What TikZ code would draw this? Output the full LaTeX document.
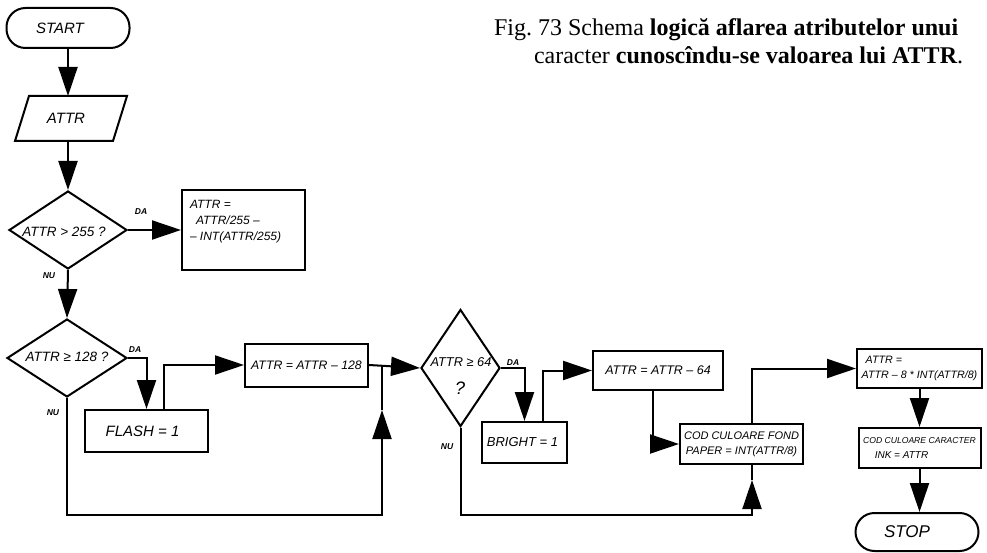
\documentclass[tikz,border=0pt]{standalone}
\usepackage{fontspec}
\setmainfont{Liberation Serif}
\newfontfamily\hand{Liberation Sans}
\usetikzlibrary{shapes.geometric,arrows.meta}
\newcommand{\hs}[1]{\hand\itshape\fontsize{#1}{#1}\selectfont}
\begin{document}
\begin{tikzpicture}[x=1pt,y=-1pt,
  line width=2pt, line join=miter,
  arr/.style={-{Triangle[length=29pt,width=19pt]}},
  box/.style={draw, rectangle, inner sep=0pt},
  term/.style={draw, rectangle, rounded corners=19pt, inner sep=0pt, font=\hs{15}},
  dia/.style={draw, diamond, inner sep=0pt},
  htxt/.style={font=\hs{13}, inner sep=0pt},
  lab/.style={font=\hand\itshape\bfseries\fontsize{8.5}{9}\selectfont, inner sep=0pt},
  captxt/.style={font=\fontsize{24}{26}\selectfont, inner sep=0pt, anchor=base west}]
\useasboundingbox (0,0) rectangle (987,553);
% caption
\node[captxt] (cap1) at (493,36) {Fig.\ 73 Schema \textbf{logică aflarea atributelor unui}};
\node[captxt] (cap2) at (533,64) {caracter \textbf{cunoscîndu-se valoarea lui ATTR}.};
% start
\node[term, minimum width=123pt, minimum height=40pt] (start) at (68,28) {\hspace{-16pt}START};
% input
\node[minimum width=96pt, minimum height=43pt, inner sep=0pt, font=\hs{15}] (attr) at (71,118.5) {\hspace{-10pt}ATTR};
\draw ([xshift=7pt]attr.north west) -- ([xshift=7pt]attr.north east) -- ([xshift=-7pt]attr.south east) -- ([xshift=-7pt]attr.south west) -- cycle;
\draw[arr] (start.south) -- (start.south |- attr.north);
% decision 1
\node[dia, minimum width=118pt, minimum height=78pt] (d1) at (68,230) {};
\node[htxt, font=\hs{13.5}] (t1) at (64,232) {ATTR > 255 ?};
\draw[arr] (attr.south -| start.south) -- (d1.north);
\node[box, minimum width=123pt, minimum height=80pt] (b1) at (243.5,230) {};
\node[htxt, anchor=north west, align=left, font=\hand\itshape\fontsize{12}{16}\selectfont] (t1b) at (189,199) {ATTR =\\[0pt]\hspace{6pt}ATTR/255 –\\– INT(ATTR/255)};
\draw[arr] (d1.east) -- (b1.west);
\node[lab] (da1) at (141,212) {DA};
\node[lab] (nu1) at (49,276) {NU};
% decision 2
\node[dia, minimum width=120pt, minimum height=78pt] (d2) at (67,358) {};
\node[htxt, font=\hs{13.5}] (t2) at (67,357) {ATTR ≥ 128 ?};
\draw[arr] (d1.south) -- (d2.north);
\node[lab] (da2) at (135,350) {DA};
\node[lab] (nu2) at (53,413) {NU};
\node[box, minimum width=123pt, minimum height=42pt, font=\hs{15}] (flash) at (146.5,431) {\hspace{-8pt}FLASH = 1};
\draw[arr] (d2.east) -| (flash.north);
\node[box, minimum width=123pt, minimum height=43pt, font=\hs{12.3}] (b2) at (306.5,365) {ATTR = ATTR – 128};
\draw[arr] ([xshift=17pt]flash.north) |- (b2.west);
% decision 3
\node[dia, minimum width=79pt, minimum height=117pt] (d3) at (460.5,368) {};
\node[htxt, font=\hs{12.8}] (t3a) at (461,362) {ATTR ≥ 64};
\node[htxt, font=\hs{18}] (t3b) at (460,388) {?};
\draw[arr] (b2.east) -- (d3.west);
\coordinate (j1) at (382,365);
\coordinate (m1) at (382,410);
\coordinate (bot) at (0,515);
\draw[arr] (d2.south) -- (d2.south |- bot) -| (m1);
\draw (m1) -- (j1);
\node[lab] (da3) at (513,363) {DA};
\node[lab] (nu3) at (447,447) {NU};
\node[box, minimum width=85pt, minimum height=41pt, font=\hs{13}] (bright) at (524.5,442.5) {\hspace{-4pt}BRIGHT = 1};
\draw[arr] (d3.east) -| (bright.north);
\node[box, minimum width=130pt, minimum height=39pt, font=\hs{12.5}] (b3) at (658,370.5) {ATTR = ATTR – 64};
\draw[arr] ([xshift=18.5pt]bright.north) |- (b3.west);
\node[box, minimum width=123pt, minimum height=40pt, align=center, font=\hand\itshape\fontsize{11}{15}\selectfont] (b4) at (741.5,444) {COD CULOARE FOND\\PAPER = INT(ATTR/8)};
\draw[arr] ([xshift=-5pt]b3.south) |- (b4.west);
\coordinate (m2) at (752,480);
\draw[arr] (d3.south) -- (d3.south |- bot) -| (m2);
\draw (m2) -- (m2 |- b4.south);
\node[box, minimum width=125pt, minimum height=39pt, align=left, font=\hand\itshape\fontsize{10.7}{15}\selectfont] (b5) at (919.5,368.5) {\hspace{4pt}ATTR =\\ATTR – 8 * INT(ATTR/8)};
\draw[arr] (m2 |- b4.north) |- (b5.west);
\node[box, minimum width=122pt, minimum height=40pt, align=center, font=\hand\itshape\fontsize{8.6}{15}\selectfont] (b6) at (919.5,448) {COD CULOARE CARACTER\\{\fontsize{10}{12}\selectfont\hspace*{-36pt}INK = ATTR}};
\draw[arr] (b5.south) -- (b6.north);
\node[term, minimum width=123pt, minimum height=38pt, font=\hs{17}] (stop) at (917,532) {\hspace{-20pt}STOP};
\draw[arr] (b6.south) -- (b6.south |- stop.north);
\end{tikzpicture}
\end{document}
